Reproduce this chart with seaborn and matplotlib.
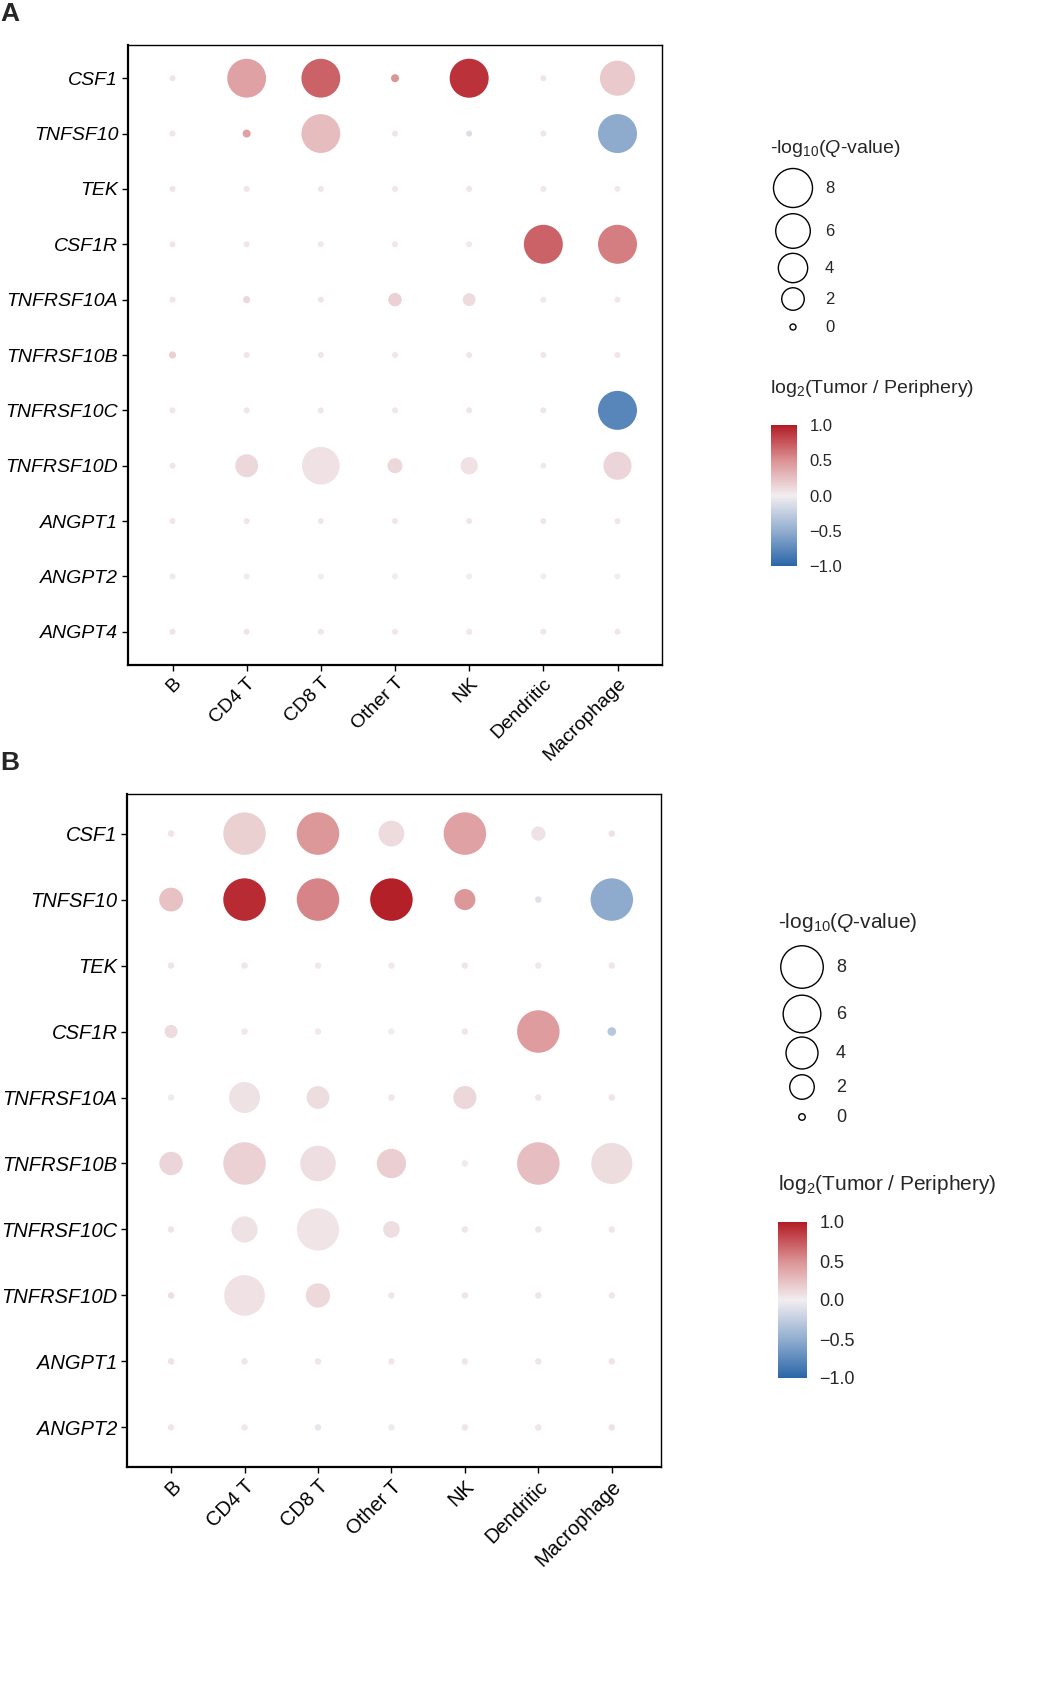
import numpy as np
import pandas as pd
import seaborn as sns
import matplotlib.pyplot as plt
from matplotlib.colors import LinearSegmentedColormap, Normalize
from matplotlib.cm import ScalarMappable

# ---- data ----
cell_types = ["B", "CD4 T", "CD8 T", "Other T", "NK", "Dendritic", "Macrophage"]

genes_a = ["CSF1", "TNFSF10", "TEK", "CSF1R", "TNFRSF10A", "TNFRSF10B",
           "TNFRSF10C", "TNFRSF10D", "ANGPT1", "ANGPT2", "ANGPT4"]
# -log10(Q-value), rows = genes, columns = cell types
q_a = [
    [0, 7.9, 7.9, 0.03, 8.0, 0, 6.2],
    [0, 0.03, 7.9, 0, 0, 0, 8.0],
    [0, 0, 0, 0, 0, 0, 0],
    [0, 0, 0, 0, 0, 8.0, 8.0],
    [0, 0.01, 0, 0.41, 0.34, 0, 0],
    [0.01, 0, 0, 0, 0, 0, 0],
    [0, 0, 0, 0, 0, 0, 8.0],
    [0, 2.1, 7.35, 0.6, 0.95, 0, 3.6],
    [0, 0, 0, 0, 0, 0, 0],
    [0, 0, 0, 0, 0, 0, 0],
    [0, 0, 0, 0, 0, 0, 0],
]
# log2(Tumor / Periphery)
fc_a = [
    [0.05, 0.42, 0.7, 0.48, 0.9, 0.05, 0.2],
    [0.04, 0.42, 0.27, 0.05, -0.12, 0.04, -0.52],
    [0.05, 0.04, 0.04, 0.04, 0.04, 0.04, 0.03],
    [0.04, 0.04, 0.03, 0.04, 0.03, 0.7, 0.58],
    [0.04, 0.12, 0.05, 0.15, 0.1, 0.03, 0.04],
    [0.15, 0.04, 0.04, 0.04, 0.04, 0.04, 0.04],
    [0.04, 0.04, 0.04, 0.04, 0.04, 0.04, -0.78],
    [0.04, 0.12, 0.07, 0.12, 0.07, 0.03, 0.13],
    [0.04, 0.04, 0.04, 0.04, 0.04, 0.04, 0.04],
    [-0.03, -0.02, 0.0, 0.0, 0.0, 0.0, 0.0],
    [0.05, 0.05, 0.04, 0.04, 0.04, 0.04, 0.04],
]

genes_b = ["CSF1", "TNFSF10", "TEK", "CSF1R", "TNFRSF10A", "TNFRSF10B",
           "TNFRSF10C", "TNFRSF10D", "ANGPT1", "ANGPT2"]
q_b = [
    [0, 8.0, 8.0, 2.3, 8.0, 0.37, 0],
    [1.85, 8.0, 8.0, 8.0, 1.3, 0, 8.0],
    [0, 0, 0, 0, 0, 0, 0],
    [0.27, 0, 0, 0, 0, 8.0, 0.03],
    [0, 3.7, 1.65, 0, 1.7, 0, 0],
    [1.75, 8.0, 5.2, 3.2, 0, 8.0, 7.4],
    [0, 2.4, 7.9, 0.64, 0, 0, 0],
    [0, 7.2, 1.95, 0, 0, 0, 0],
    [0, 0, 0, 0, 0, 0, 0],
    [0, 0, 0, 0, 0, 0, 0],
]
fc_b = [
    [0.05, 0.16, 0.47, 0.1, 0.42, 0.06, 0.06],
    [0.24, 0.93, 0.56, 0.98, 0.47, -0.1, -0.52],
    [0.05, 0.04, 0.03, 0.03, 0.04, 0.03, 0.04],
    [0.1, 0.03, 0.02, 0.0, 0.04, 0.44, -0.3],
    [-0.02, 0.06, 0.09, 0.04, 0.12, 0.04, 0.05],
    [0.13, 0.15, 0.08, 0.17, 0.02, 0.26, 0.09],
    [0.05, 0.06, 0.05, 0.08, 0.04, 0.04, 0.04],
    [0.08, 0.07, 0.11, 0.04, 0.05, 0.04, 0.04],
    [0.07, 0.04, 0.04, 0.04, 0.04, 0.04, 0.05],
    [0.04, 0.03, -0.06, -0.02, 0.05, 0.04, 0.06],
]

legend_q = [8, 6, 4, 2, 0]
cbar_ticks = [1.0, 0.5, 0.0, -0.5, -1.0]

W, H, DPI = 1063, 1682, 100

sns.set_theme(style="ticks")
plt.rcParams['font.family'] = ['Liberation Sans', 'DejaVu Sans']
plt.rcParams['mathtext.fontset'] = 'custom'
plt.rcParams['mathtext.rm'] = 'Liberation Sans'
plt.rcParams['mathtext.it'] = 'Liberation Sans:italic'

cmap = LinearSegmentedColormap.from_list(
    "fc", [(0.0, "#2A66A8"), (0.25, "#92AED0"), (0.5, "#F2EDF0"),
           (0.75, "#DB9294"), (1.0, "#B31C25")])
norm = Normalize(-1, 1)


def q_to_area(q, dmin, dmax):
    # ggplot-like area scale: diameter grows with sqrt(q)
    d_px = dmin + (dmax - dmin) * np.sqrt(max(q, 0) / 8)
    return (d_px * 72 / DPI) ** 2


def long_table(genes, q, fc):
    rows = []
    for gi, g in enumerate(genes):
        for ci, c in enumerate(cell_types):
            rows.append({"gene": g, "cell": c, "gy": gi, "cx": ci,
                         "q": q[gi][ci], "fc": fc[gi][ci]})
    return pd.DataFrame(rows)


def fx(px):
    return px / W


def fy(py):
    return 1 - py / H


def draw_panel(box, genes, q, fc, dmin, dmax, xright, fs):
    left, top, right, bottom = box
    ax = fig.add_axes([fx(left), fy(bottom), (right - left) / W, (bottom - top) / H])
    df = long_table(genes, q, fc)
    sizes = {v: q_to_area(v, dmin, dmax) for v in df["q"].unique()}
    sns.scatterplot(data=df, x="cx", y="gy", hue="fc", hue_norm=(-1, 1),
                    palette=cmap, size="q", sizes=sizes, linewidth=0,
                    edgecolor="none", legend=False, ax=ax)
    ax.set_xlim(-0.6, xright)
    ax.set_ylim(len(genes) - 0.4, -0.6)
    ax.set_xticks(range(len(cell_types)))
    ax.set_xticklabels(cell_types, rotation=45, ha="right",
                       rotation_mode="anchor", fontsize=fs)
    ax.set_yticks(range(len(genes)))
    ax.set_yticklabels(genes, fontsize=fs, style="italic")
    ax.set_xlabel("")
    ax.set_ylabel("")
    ax.tick_params(length=4, width=1, color="black", pad=3, labelcolor="black")
    for s in ["left", "bottom"]:
        ax.spines[s].set_linewidth(1.6)
    for s in ["top", "right"]:
        ax.spines[s].set_linewidth(1.0)
    for s in ax.spines.values():
        s.set_color("black")
        s.set_visible(True)
    ax.grid(False)
    return ax


def draw_legends(title_xy, key_x, key_ys, lab_x, dmin, dmax, fs,
                 cb_title_y, cb_box):
    tx, ty = title_xy
    over.text(tx, ty, r"-log$_{10}$($\mathit{Q}$-value)", fontsize=fs,
              va="center", ha="left")
    for v, ky in zip(legend_q, key_ys):
        over.scatter([key_x], [ky], s=q_to_area(v, dmin, dmax),
                     facecolor="none", edgecolor="black", linewidth=1.0)
        over.text(lab_x, ky, str(v), fontsize=fs - 2, va="center", ha="left")
    over.text(tx, cb_title_y, r"log$_2$(Tumor / Periphery)", fontsize=fs,
              va="center", ha="left")
    l, t, r, b = cb_box
    cax = fig.add_axes([fx(l), fy(b), (r - l) / W, (b - t) / H])
    cb = fig.colorbar(ScalarMappable(norm=norm, cmap=cmap), cax=cax,
                      ticks=cbar_ticks)
    cb.outline.set_visible(False)
    cb.ax.set_yticklabels(["1.0", "0.5", "0.0", "\u22120.5", "\u22121.0"])
    cax.tick_params(direction="in", color="white", length=4, width=1,
                    left=True, right=True, labelsize=fs - 2, pad=9)


fig = plt.figure(figsize=(W / DPI, H / DPI), dpi=DPI)
over = fig.add_axes([0, 0, 1, 1])
over.set_xlim(0, W)
over.set_ylim(H, 0)
over.axis("off")

# panel A
draw_panel((128, 45, 662, 665), genes_a, q_a, fc_a, 6, 39, 6.6, 14)
over.text(0, 14, "A", fontsize=19, fontweight="bold", va="center", ha="left")
draw_legends((770, 148), 793, [188, 231, 268, 299, 327], 825, 6, 39, 14,
             388, (771, 425, 797, 566))

# panel B
draw_panel((127, 794, 661, 1467), genes_b, q_b, fc_b, 6.5, 42.5, 6.67, 14.5)
over.text(0, 763, "B", fontsize=19, fontweight="bold", va="center", ha="left")
draw_legends((778, 922), 802, [967, 1014, 1053, 1087, 1117], 836, 6.5, 42.5, 15,
             1184, (778, 1222, 807, 1378))

fig.savefig("out.png", dpi=DPI, facecolor="white")
